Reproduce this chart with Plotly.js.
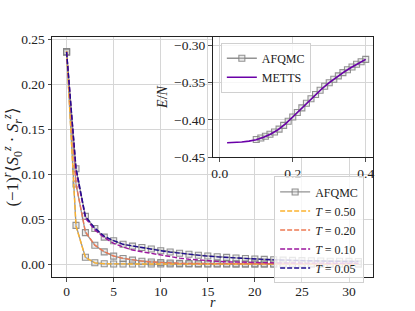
<!DOCTYPE html>
<html>
<head>
<meta charset="utf-8">
<script src="https://cdn.plot.ly/plotly-3.0.1.min.js"></script>
<style>html,body{margin:0;padding:0;background:#fff;}#chart{width:415px;height:311px;}</style>
</head>
<body>
<div id="chart"></div>
<script>
// ---- main panel data: staggered correlation vs distance r ----
const r = [0,1,2,3,4,5,6,7,8,9,10,11,12,13,14,15,16,17,18,19,20,21,22,23,24,25,26,27,28,29,30,31];

const metts_T050 = [0.237,0.042,0.0074,0.0013,0.0003,0.0001,0,0,0,0,0,0,0,0,0,0,0,0,0,0,0,0,0,0,0,0,0,0,0,0,0,0];
const metts_T020 = [0.236,0.089,0.036,0.021,0.0137,0.009,0.0063,0.0044,0.0033,0.0023,0.0016,0.0011,0.0008,0.0006,0.0005,0.0004,0.0003,0.0003,0.0002,0.0002,0.0002,0.0002,0.0001,0.0001,0.0001,0.0001,0.0001,0.0001,0.0001,0.0001,0.0001,0.0001];
const metts_T010 = [0.236,0.104,0.051,0.038,0.0295,0.023,0.019,0.0156,0.0137,0.012,0.0095,0.008,0.0066,0.0054,0.0044,0.0036,0.003,0.0025,0.0021,0.0018,0.0016,0.0014,0.0013,0.0012,0.0011,0.001,0.001,0.0009,0.0009,0.0008,0.0008,0.0008];
const metts_T005 = [0.236,0.107,0.053,0.040,0.031,0.026,0.022,0.020,0.0185,0.0167,0.0148,0.0133,0.012,0.0108,0.0097,0.0088,0.008,0.0073,0.0067,0.0061,0.0056,0.0051,0.0047,0.0043,0.004,0.0037,0.0035,0.0033,0.0031,0.003,0.0029,0.0028];

const afqmc_T050 = [0.236,0.043,0.0075,0.0014,0.0004,0.0001,0,0,0,0,0,0,0,0,0,0,0,0,0,0,0,0,0,0,0,0,0,0,0,0,0,0];
const afqmc_T020 = [0.236,0.089,0.035,0.021,0.0135,0.0088,0.0062,0.0044,0.0032,0.0023,0.0016,0.0011,0.0008,0.0006,0.0005,0.0004,0.0003,0.0003,0.0002,0.0002,0.0002,0.0002,0.0001,0.0001,0.0001,0.0001,0.0001,0.0001,0.0001,0.0001,0.0001,0.0001];
const afqmc_T005 = [0.236,0.106,0.053,0.0396,0.030,0.026,0.022,0.020,0.0185,0.0167,0.0148,0.0134,0.0121,0.0109,0.0098,0.0089,0.0081,0.0074,0.0068,0.0062,0.0057,0.0052,0.0048,0.0044,0.0041,0.0038,0.0036,0.0034,0.0032,0.0031,0.003,0.0029];

// ---- inset data: energy per site vs temperature ----
const T_afqmc = [0.1,0.1125,0.125,0.1375,0.15,0.1625,0.175,0.1875,0.2,0.2125,0.225,0.2375,0.25,0.2625,0.275,0.2875,0.3,0.3125,0.325,0.3375,0.35,0.3625,0.375,0.3875,0.4];
const E_afqmc = [-0.4264,-0.4245,-0.4222,-0.4195,-0.4165,-0.4125,-0.4075,-0.4020,-0.3963,-0.3903,-0.3840,-0.3778,-0.3717,-0.3660,-0.3603,-0.3550,-0.3502,-0.3455,-0.3410,-0.3367,-0.3327,-0.3290,-0.3254,-0.3220,-0.3188];
const T_metts = [0.02,0.04,0.06,0.08,0.10,0.12,0.14,0.16,0.18,0.20,0.22,0.24,0.26,0.28,0.30,0.32,0.34,0.36,0.38,0.40];
const E_metts = [-0.4308,-0.4305,-0.4298,-0.4287,-0.4268,-0.4235,-0.4190,-0.4133,-0.4055,-0.3963,-0.3865,-0.3767,-0.3671,-0.3583,-0.3502,-0.3428,-0.3360,-0.3298,-0.3240,-0.3188];

const legendLabels = ['<i>T</i> = 0.50','<i>T</i> = 0.20','<i>T</i> = 0.10','<i>T</i> = 0.05'];
const colors = ['#fcb32f','#ed7953','#9c179e','#1f0c8f'];

const grey = 'rgba(128,128,128,0.85)';
function afq(y, show){
  return {x:r, y:y, type:'scatter', mode:'lines+markers', name:'AFQMC', legendgroup:'afq',
    showlegend:show, legend:'legend', xaxis:'x', yaxis:'y',
    line:{color:grey, width:1.3},
    marker:{symbol:'square', size:6, color:'rgba(200,200,200,0.35)', line:{color:grey, width:1.1}}};
}
function met(y, i){
  return {x:r, y:y, type:'scatter', mode:'lines', name:legendLabels[i], legend:'legend',
    xaxis:'x', yaxis:'y', line:{color:colors[i], width:1.4, dash:'5px,2px'}};
}

const traces = [
  afq(afqmc_T050, true), afq(afqmc_T020, false), afq(afqmc_T005, false),
  met(metts_T050,0), met(metts_T020,1), met(metts_T010,2), met(metts_T005,3),
  {x:T_afqmc, y:E_afqmc, type:'scatter', mode:'lines+markers', name:'AFQMC', legend:'legend2',
    xaxis:'x2', yaxis:'y2', line:{color:grey, width:1.3},
    marker:{symbol:'square', size:6, color:'rgba(200,200,200,0.35)', line:{color:grey, width:1.1}}},
  {x:T_metts, y:E_metts, type:'scatter', mode:'lines', name:'METTS', legend:'legend2',
    xaxis:'x2', yaxis:'y2', line:{color:'#6a00a8', width:1.6}}
];

const font = {family:'Liberation Serif, serif', size:13.5, color:'#222'};
const legFont = {family:'Liberation Serif, serif', size:12, color:'#222'};
const titleFont = {family:'Liberation Serif, serif', size:14, color:'#222'};
const yTitleFont = {family:'Liberation Serif, serif', size:17, color:'#222'};
const axisCommon = {showline:true, mirror:true, linecolor:'#222', linewidth:1, ticks:'outside',
  ticklen:3.5, tickwidth:0.8, tickcolor:'#222', showgrid:true, gridcolor:'#d6d6d6', gridwidth:1,
  zeroline:false, tickfont:font};

const layout = {
  width:415, height:311,
  margin:{l:52, r:42, t:37, b:34},
  paper_bgcolor:'#fff', plot_bgcolor:'#fff',
  font:font,
  xaxis: Object.assign({}, axisCommon, {domain:[0,1], range:[-1.55,32.55], tickvals:[0,5,10,15,20,25,30], ticklabelstandoff:-2}),
  yaxis: Object.assign({}, axisCommon, {domain:[0,1], range:[-0.0144,0.2526], dtick:0.05, tick0:0, tickformat:'.2f',
    title:{text:'(−1)<sup><i>r</i></sup>⟨<i>S</i><sub>0</sub><sup><i>z</i></sup> · <i>S</i><sub><i>r</i></sub><sup><i>z</i></sup>⟩', font:yTitleFont, standoff:3}}),
  xaxis2: Object.assign({}, axisCommon, {domain:[0.5,1], anchor:'y2', range:[-0.02,0.42], tickvals:[0,0.2,0.4], tickformat:'.1f'}),
  yaxis2: Object.assign({}, axisCommon, {domain:[0.5,1], anchor:'x2', range:[-0.45,-0.2888], tickvals:[-0.45,-0.40,-0.35,-0.30], tickformat:'.2f',
    title:{text:'<i>E</i>/<i>N</i>', font:titleFont, standoff:3}}),
  annotations:[{text:'<i>r</i>', xref:'paper', yref:'paper', x:0.5016, y:-0.108, xanchor:'center', yanchor:'middle',
    showarrow:false, font:titleFont}],
  legend:{x:0.692, y:0.419, xanchor:'left', yanchor:'top', bgcolor:'rgba(255,255,255,0.8)',
    bordercolor:'#d0d0d0', borderwidth:1, font:legFont, tracegroupgap:0, itemwidth:30},
  legend2:{x:0.526, y:0.976, xanchor:'left', yanchor:'top', bgcolor:'rgba(255,255,255,0.8)',
    bordercolor:'#d0d0d0', borderwidth:1, font:legFont, itemwidth:30},
  showlegend:true
};

Plotly.newPlot('chart', traces, layout, {displayModeBar:false, staticPlot:true});
</script>
</body>
</html>
